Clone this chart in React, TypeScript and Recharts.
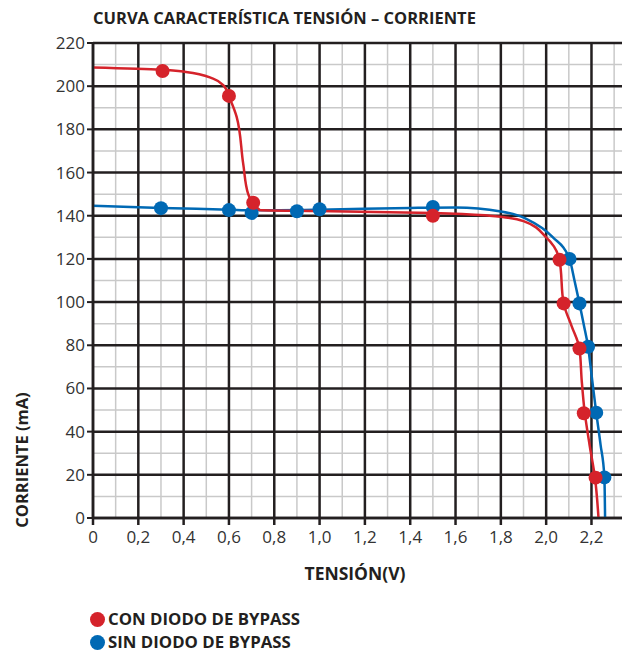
import { ComposedChart, Line, Scatter, XAxis, YAxis, ReferenceLine } from "recharts";

// curva ajustada: [tensión, corriente]
const conDiodoCurva = [
  [0, 208.6], [0.3, 207.6], [0.41, 206.6], [0.53, 203.5], [0.575, 200.5], [0.605, 194],
  [0.634, 185.8], [0.663, 164], [0.685, 150], [0.736, 142.6], [1.0, 142.2], [1.5, 141.3],
  [1.75, 140], [1.9, 137.5], [2.0, 130], [2.059, 119.5], [2.077, 99.4], [2.112, 89],
  [2.147, 78.5], [2.157, 63.5], [2.17, 49], [2.192, 33.6], [2.215, 19], [2.231, 0],
];
const sinDiodoCurva = [
  [0, 144.6], [0.3, 143.6], [0.6, 142.8], [0.7, 142.5], [1.0, 142.8], [1.4, 143.6],
  [1.6, 143.8], [1.8, 142], [1.91, 138.7], [2.03, 130], [2.103, 120], [2.125, 110],
  [2.147, 99.4], [2.166, 89.5], [2.185, 79.3], [2.203, 64], [2.221, 48.8], [2.24, 34],
  [2.257, 18.8], [2.26, 0],
];

// puntos medidos
const conDiodoPuntos = [
  [0.307, 207], [0.6, 195.5], [0.707, 146], [1.5, 140], [2.059, 119.6],
  [2.077, 99.4], [2.147, 78.5], [2.166, 48.5], [2.218, 18.7],
];
const sinDiodoPuntos = [
  [0.3, 143.5], [0.6, 142.6], [0.7, 141.3], [0.9, 142.1], [1.0, 143], [1.5, 144.1],
  [2.103, 120], [2.147, 99.4], [2.185, 79.3], [2.221, 48.8], [2.257, 18.8],
];

const xTicks = [0, 0.2, 0.4, 0.6, 0.8, 1.0, 1.2, 1.4, 1.6, 1.8, 2.0, 2.2];
const xMinor = [0.1, 0.3, 0.5, 0.7, 0.9, 1.1, 1.3, 1.5, 1.7, 1.9, 2.1, 2.3];
const yTicks = [0, 20, 40, 60, 80, 100, 120, 140, 160, 180, 200, 220];
const yMinor = [10, 30, 50, 70, 90, 110, 130, 150, 170, 190, 210];

const RED = "#d5232b";
const BLUE = "#0069b4";
const DARK = "#231f20";
const MINOR = "#c9c9c9";
const FONT = "'Open Sans', sans-serif";

const toXY = (arr: number[][]) => arr.map(([x, y]) => ({ x, y }));

const dot = (color: string) => (p: any) => <circle cx={p.cx} cy={p.cy} r={7} fill={color} />;

const boldText: React.CSSProperties = {
  position: "absolute",
  fontFamily: FONT,
  fontWeight: 700,
  fontSize: 16.5,
  color: DARK,
  whiteSpace: "nowrap",
  lineHeight: "20px",
};

export default function App() {
  return (
    <div style={{ position: "relative", width: 622, height: 644 }}>
      <div style={{ ...boldText, left: 85, top: 0 }}>CURVA CARACTERÍSTICA TENSIÓN – CORRIENTE</div>
      <ComposedChart width={622} height={644} margin={{ top: 35, right: 0, bottom: 104, left: 0 }}>
        {xMinor.map((v) => (
          <ReferenceLine key={"xm" + v} x={v} stroke={MINOR} strokeWidth={1.5} />
        ))}
        {yMinor.map((v) => (
          <ReferenceLine key={"ym" + v} y={v} stroke={MINOR} strokeWidth={1.5} />
        ))}
        {xTicks.map((v) => (
          <ReferenceLine key={"xM" + v} x={v} stroke={DARK} strokeWidth={2.5} />
        ))}
        {yTicks.map((v) => (
          <ReferenceLine key={"yM" + v} y={v} stroke={DARK} strokeWidth={2.5} />
        ))}
        <XAxis
          type="number"
          dataKey="x"
          domain={[0, 2.37]}
          ticks={xTicks}
          allowDataOverflow
          height={30}
          tickSize={7}
          tickMargin={6}
          tickFormatter={(v: number) => (v === 0 ? "0" : v.toFixed(1).replace(".", ","))}
          tick={{ fill: "#333", fontSize: 17, fontFamily: FONT }}
          axisLine={{ stroke: DARK, strokeWidth: 2.5 }}
          tickLine={{ stroke: DARK, strokeWidth: 2.5 }}
        />
        <YAxis
          type="number"
          dataKey="y"
          domain={[0, 220]}
          ticks={yTicks}
          width={85}
          tickSize={6}
          tick={{ fill: "#333", fontSize: 17, fontFamily: FONT }}
          axisLine={{ stroke: DARK, strokeWidth: 2.5 }}
          tickLine={{ stroke: DARK, strokeWidth: 2 }}
        />
        <Line data={toXY(sinDiodoCurva)} dataKey="y" type="monotone" stroke={BLUE} strokeWidth={2.5} dot={false} activeDot={false} isAnimationActive={false} />
        <Line data={toXY(conDiodoCurva)} dataKey="y" type="monotoneY" stroke={RED} strokeWidth={2.5} dot={false} activeDot={false} isAnimationActive={false} />
        <Scatter data={toXY(sinDiodoPuntos)} dataKey="y" fill={BLUE} shape={dot(BLUE)} isAnimationActive={false} />
        <Scatter data={toXY(conDiodoPuntos)} dataKey="y" fill={RED} shape={dot(RED)} isAnimationActive={false} />
      </ComposedChart>
      <div style={{ ...boldText, fontSize: 17.5, left: 347, top: 555, transform: "translateX(-50%)" }}>TENSIÓN(V)</div>
      <div style={{ ...boldText, left: 14, top: 452, transform: "translate(-50%, -50%) rotate(-90deg)" }}>CORRIENTE (mA)</div>
      <div style={{ position: "absolute", left: 82, top: 604, width: 15, height: 15, borderRadius: 8, background: RED }} />
      <div style={{ ...boldText, fontSize: 16.8, lineHeight: "18px", left: 100, top: 602 }}>CON DIODO DE BYPASS</div>
      <div style={{ position: "absolute", left: 82, top: 627, width: 15, height: 15, borderRadius: 8, background: BLUE }} />
      <div style={{ ...boldText, fontSize: 16.8, lineHeight: "18px", left: 100, top: 625 }}>SIN DIODO DE BYPASS</div>
    </div>
  );
}
